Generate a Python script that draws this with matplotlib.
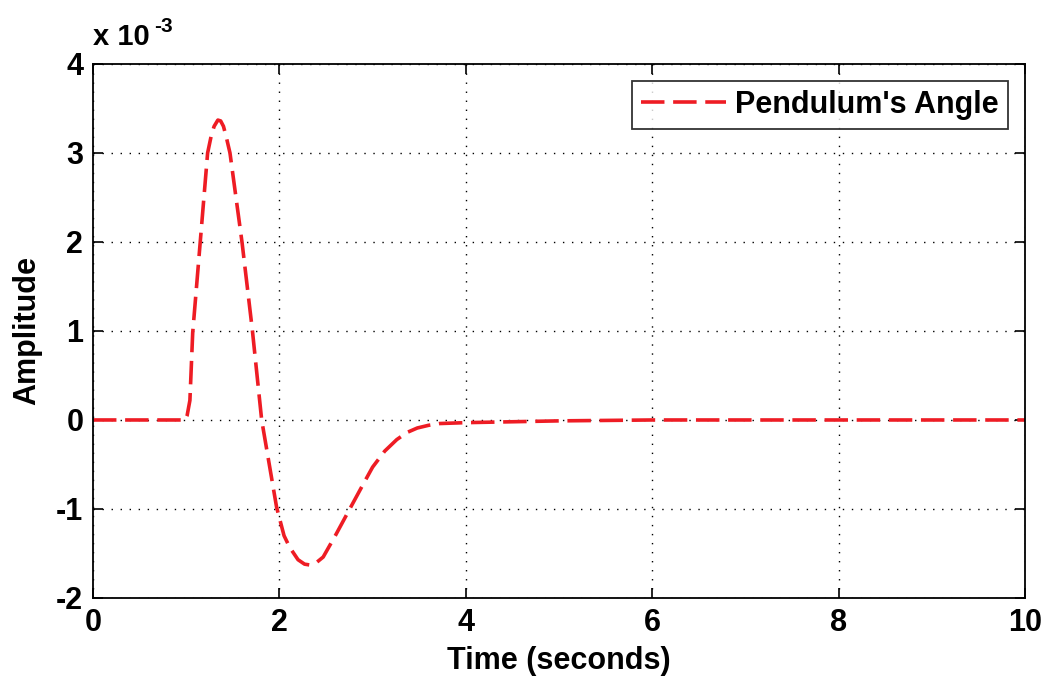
import matplotlib
matplotlib.use("Agg")
import matplotlib.pyplot as plt
import numpy as np

# Pendulum angle response (values in units of 1e-3)
t = [0.0, 0.5, 0.99, 1.01, 1.04, 1.07, 1.15, 1.23, 1.27, 1.30, 1.34, 1.37,
     1.40, 1.43, 1.47, 1.60, 1.71, 1.81, 1.97, 2.05, 2.11, 2.20, 2.27, 2.33,
     2.40, 2.47, 2.60, 2.76, 2.90, 3.00, 3.13, 3.26, 3.37, 3.48, 3.60, 3.72,
     4.00, 4.50, 5.00, 6.00, 10.0]
angle = [0.0, 0.0, 0.0, 0.05, 0.22, 0.98, 1.99, 3.0, 3.2, 3.3, 3.37, 3.36,
         3.3, 3.18, 3.0, 1.99, 1.01, 0.0, -0.98, -1.3, -1.43, -1.57, -1.62, -1.63,
         -1.6, -1.54, -1.30, -0.99, -0.72, -0.53, -0.35, -0.22, -0.14, -0.09, -0.06, -0.04,
         -0.03, -0.02, -0.01, 0.0, 0.0]

x_ticks = [0, 2, 4, 6, 8, 10]
y_ticks = [-2, -1, 0, 1, 2, 3, 4]

plt.rcParams['font.family'] = ['Liberation Sans', 'DejaVu Sans']
plt.rcParams['font.weight'] = 'bold'

fig = plt.figure(figsize=(10.47, 6.83), dpi=100)
ax = fig.add_axes([0.0888, 0.1245, 0.8902, 0.7818])

ax.plot(t, angle, color='#ee1c24', linewidth=2.6, dashes=(6.5, 2.4),
        label="Pendulum's Angle")

ax.set_xlim(0, 10)
ax.set_ylim(-2, 4)
ax.set_xticks(x_ticks)
ax.set_yticks(y_ticks)
ax.set_xticklabels([str(v) for v in x_ticks])
ax.set_yticklabels([str(v) for v in y_ticks])
ax.tick_params(direction='in', length=7, width=1.2, labelsize=22,
               top=True, right=True)
ax.tick_params(axis='x', pad=7)
ax.tick_params(axis='y', pad=7)
ax.grid(True, color='black', linestyle=(0, (1, 5.5)), linewidth=1.0)
for s in ax.spines.values():
    s.set_linewidth(1.3)

ax.set_xlabel("Time (seconds)", fontsize=22, fontweight='bold', labelpad=6)
ax.set_ylabel("Amplitude", fontsize=22, fontweight='bold', labelpad=10)

# exponent marker above the y axis
ax.text(0.0, 1.025, "x 10", transform=ax.transAxes, fontsize=21,
        fontweight='bold', ha='left', va='bottom')
ax.text(0.066, 1.052, "-3", transform=ax.transAxes, fontsize=15,
        fontweight='bold', ha='left', va='bottom')

leg = ax.legend(loc='upper right', fontsize=22, frameon=True, fancybox=False,
                handlelength=2.8, borderaxespad=0.55, borderpad=0.3,
                handletextpad=0.3)
leg.get_frame().set_edgecolor('black')
leg.get_frame().set_linewidth(1.3)

fig.savefig('out.png', dpi=100)
